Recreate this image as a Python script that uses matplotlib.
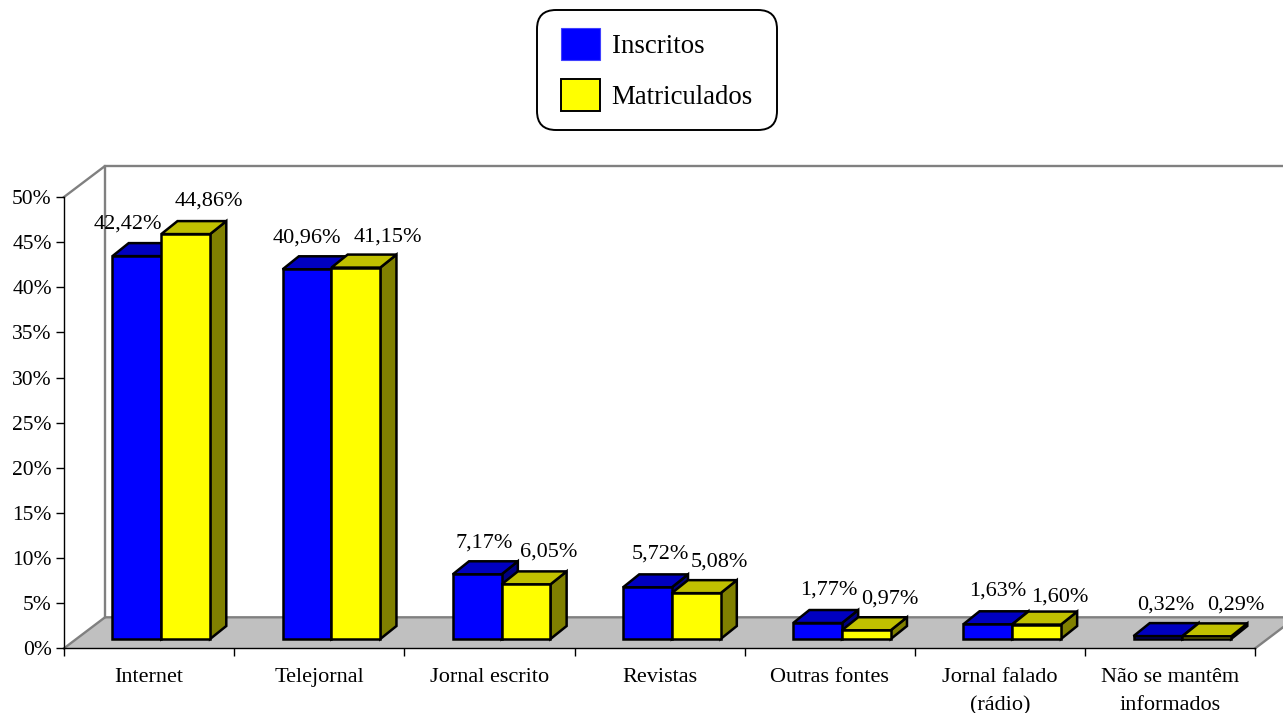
import matplotlib
matplotlib.use("Agg")
import matplotlib.pyplot as plt
from matplotlib.patches import Patch, FancyBboxPatch
from matplotlib.transforms import IdentityTransform

categorias = ["Internet", "Telejornal", "Jornal escrito", "Revistas", "Outras fontes",
              "Jornal falado\n(rádio)", "Não se mantêm\ninformados"]
inscritos = [42.42, 40.96, 7.17, 5.72, 1.77, 1.63, 0.32]
matriculados = [44.86, 41.15, 6.05, 5.08, 0.97, 1.60, 0.29]
rotulos_ins = ["42,42%", "40,96%", "7,17%", "5,72%", "1,77%", "1,63%", "0,32%"]
rotulos_mat = ["44,86%", "41,15%", "6,05%", "5,08%", "0,97%", "1,60%", "0,29%"]
ticks_y = [0, 5, 10, 15, 20, 25, 30, 35, 40, 45, 50]

# desplazamiento de cada rotulo respecto de la barra, en pixeles
desp_ins = [(-9, 32), (0, 31), (7, 31), (13, 33), (11, 33), (10, 33), (8, 31)]
desp_mat = [(23, 33), (32, 31), (23, 32), (23, 31), (23, 31), (23, 28), (29, 31)]

plt.rcParams["font.family"] = ["Liberation Serif", "DejaVu Serif"]
W, H = 1283, 713
fig = plt.figure(figsize=(W / 100, H / 100), dpi=100)

# plano frontal del grafico, en pixeles de la imagen
x0, x1, y0, y1 = 64.0, 1255.2, 648.3, 197.0
ax = fig.add_axes([x0 / W, 1 - y0 / H, (x1 - x0) / W, (y0 - y1) / H])
ax.set_xlim(0, 7)
ax.set_ylim(0, 50)
px = (x1 - x0) / 7   # pixeles por categoria
py = (y0 - y1) / 50  # pixeles por punto porcentual

# profundidad del piso y de las barras, en unidades de datos
prof_x, prof_y = 41 / px, 31 / py
ini_x, ini_y = 12.2 / px, 9.3 / py
bar_x, bar_y = 16.2 / px, 13 / py
ancho = 48.8 / px

gris = "#808080"
ax.fill([0, 7, 7 + prof_x, prof_x], [0, 0, prof_y, prof_y], color="#C0C0C0", lw=0, zorder=1, clip_on=False)
ax.plot([0, prof_x, prof_x, 7 + prof_x], [50, 50 + prof_y, prof_y, prof_y], color=gris, lw=1.7, zorder=1.5, clip_on=False)
ax.plot([prof_x, 7 + prof_x], [50 + prof_y, 50 + prof_y], color=gris, lw=1.7, zorder=1.5, clip_on=False)
ax.plot([0, prof_x], [0, prof_y], color=gris, lw=1.7, zorder=1.5, clip_on=False)
ax.plot([7, 7 + prof_x], [0, prof_y], color=gris, lw=1.7, zorder=1.5, clip_on=False)


def barra(x, v, frente, techo, lado):
    # x es el borde izquierdo de la cara frontal
    y = ini_y
    kw = dict(edgecolor="black", lw=1.8, joinstyle="miter", clip_on=False, zorder=3)
    ax.fill([x + ancho, x + ancho + bar_x, x + ancho + bar_x, x + ancho],
            [y, y + bar_y, y + v + bar_y, y + v], facecolor=lado, **kw)
    ax.fill([x, x + bar_x, x + ancho + bar_x, x + ancho],
            [y + v, y + v + bar_y, y + v + bar_y, y + v], facecolor=techo, **kw)
    ax.fill([x, x + ancho, x + ancho, x], [y, y, y + v, y + v], facecolor=frente, **kw)


for i in range(len(categorias)):
    centro = i + 0.5 + ini_x
    barra(centro - ancho, inscritos[i], "#0000FF", "#0000C0", "#000080")
    barra(centro, matriculados[i], "#FFFF00", "#C0C000", "#808000")
    ax.annotate(rotulos_ins[i], (centro - ancho / 2, ini_y + inscritos[i]), xytext=desp_ins[i],
                textcoords="offset pixels", ha="center", va="center", fontsize=16,
                annotation_clip=False, zorder=4)
    ax.annotate(rotulos_mat[i], (centro + ancho / 2, ini_y + matriculados[i]), xytext=desp_mat[i],
                textcoords="offset pixels", ha="center", va="center", fontsize=16,
                annotation_clip=False, zorder=4)

for lado in ["top", "right"]:
    ax.spines[lado].set_visible(False)
for lado in ["left", "bottom"]:
    ax.spines[lado].set_linewidth(1.0)
ax.patch.set_visible(False)

ax.set_yticks(ticks_y)
ax.set_yticklabels([f"{t}%" for t in ticks_y], fontsize=15.5)
ax.set_xticks(range(8))
ax.set_xticklabels([])
ax.set_xticks([i + 0.5 for i in range(7)], minor=True)
ax.set_xticklabels(categorias, minor=True, fontsize=16, linespacing=1.6)
ax.tick_params(axis="x", which="major", length=5.5, width=1)
ax.tick_params(axis="x", which="minor", length=0, pad=14.5)
ax.tick_params(axis="y", length=5.5, width=1, pad=3.3)

# recuadro de la leyenda, en pixeles
caja = FancyBboxPatch((537, H - 130), 240, 120, boxstyle="round,pad=0,rounding_size=19",
                      transform=IdentityTransform(), facecolor="white", edgecolor="black",
                      lw=1.4, zorder=5)
fig.add_artist(caja)

handles = [Patch(facecolor="#0000FF", edgecolor="#4040FF", lw=0.8),
           Patch(facecolor="#FFFF00", edgecolor="black", lw=1.4)]
ley = fig.legend(handles, ["Inscritos", "Matriculados"], loc="center",
                 bbox_to_anchor=(657 / W, 1 - 69.5 / H), fontsize=19.3, frameon=False,
                 handlelength=1.46, handleheight=1.5, labelspacing=0.69, handletextpad=0.42,
                 borderpad=0, borderaxespad=0)
ley.set_zorder(6)

plt.savefig("out.png", dpi=100)
